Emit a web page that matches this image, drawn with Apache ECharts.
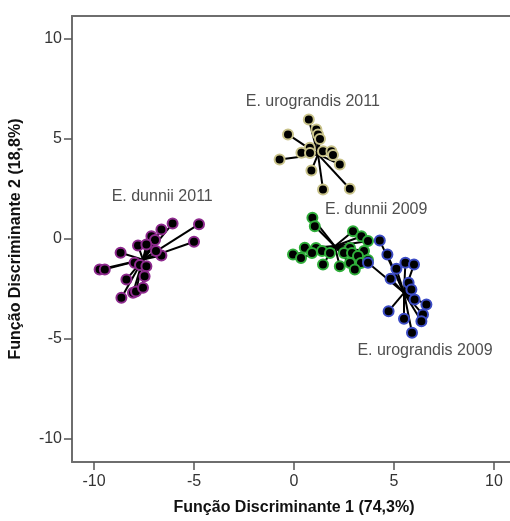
<!DOCTYPE html>
<html>
<head>
<meta charset="utf-8">
<script src="https://cdn.jsdelivr.net/npm/echarts@6/dist/echarts.min.js"></script>
<style>html,body{margin:0;padding:0;background:#fff}#c{width:510px;height:521px}</style>
</head>
<body>
<div id="c"></div>
<script>
const groupNames = ['E. dunnii 2011', 'E. urograndis 2011', 'E. dunnii 2009', 'E. urograndis 2009'];
const groupColors = ['#8e2a8e', '#c9c38a', '#2fae3a', '#3b4bc4'];

const centroids = [[-7.55, -1.03], [1.2, 4.23], [2.04, -0.36], [5.5, -2.69]];

const dunnii2011 = [
  [-4.75, 0.74], [-6.07, 0.78], [-5.0, -0.14], [-6.63, 0.47], [-7.13, 0.14],
  [-6.95, -0.05], [-7.8, -0.33], [-7.38, -0.28], [-8.67, -0.69], [-6.63, -0.83],
  [-6.9, -0.6], [-9.72, -1.52], [-9.46, -1.52], [-7.97, -1.19], [-7.7, -1.3],
  [-7.38, -1.36], [-8.38, -2.03], [-7.47, -1.86], [-8.05, -2.69], [-7.9, -2.62],
  [-7.55, -2.44], [-8.63, -2.94]
];
const urograndis2011 = [
  [0.74, 5.98], [1.12, 5.48], [1.2, 5.23], [1.3, 5.0], [-0.3, 5.23],
  [0.79, 4.56], [0.37, 4.31], [0.8, 4.3], [1.45, 4.39], [1.87, 4.39],
  [1.95, 4.2], [-0.72, 3.98], [2.29, 3.73], [0.87, 3.43], [1.45, 2.48],
  [2.79, 2.51]
];
const dunnii2009 = [
  [0.92, 1.06], [1.04, 0.64], [2.95, 0.39], [3.37, 0.14], [3.7, -0.1],
  [2.8, -0.45], [3.5, -0.6], [0.54, -0.44], [1.1, -0.45], [-0.05, -0.78],
  [0.35, -0.95], [0.9, -0.7], [1.4, -0.6], [1.8, -0.7], [2.5, -0.7],
  [2.9, -0.7], [3.2, -0.85], [3.35, -1.2], [3.7, -1.05], [1.45, -1.28],
  [2.29, -1.36], [2.8, -1.2], [3.04, -1.53]
];
const urograndis2009 = [
  [4.29, -0.08], [4.67, -0.78], [3.7, -1.19], [5.12, -1.49], [5.57, -1.19],
  [6.0, -1.28], [4.83, -1.99], [5.73, -2.19], [5.87, -2.53], [6.03, -3.03],
  [6.62, -3.28], [6.45, -3.78], [6.37, -4.11], [4.73, -3.61], [5.5, -3.99],
  [5.9, -4.69]
];
const groups = [dunnii2011, urograndis2011, dunnii2009, urograndis2009];

const labelPositions = [[-6.59, 2.14], [0.94, 6.88], [4.11, 1.48], [6.55, -5.56]];
const tickValues = [-10, -5, 0, 5, 10];

const FONT = 'Liberation Sans, Arial, sans-serif';
const series = [];
groups.forEach((pts, i) => {
  series.push({
    type: 'lines', coordinateSystem: 'cartesian2d', z: 2, silent: true,
    lineStyle: { color: '#000', width: 2, opacity: 1 },
    data: pts.map(p => ({ coords: [centroids[i], p] }))
  });
});
groups.forEach((pts, i) => {
  series.push({
    type: 'scatter', z: 3, symbolSize: 10,
    itemStyle: { color: '#000', borderColor: groupColors[i], borderWidth: 2, opacity: 1 },
    data: pts
  });
});
series.push({
  type: 'scatter', z: 4, symbolSize: 0,
  label: { show: true, position: 'inside', formatter: p => groupNames[p.dataIndex],
    fontFamily: FONT, fontSize: 16, color: '#222' },
  data: labelPositions
});

const chart = echarts.init(document.getElementById('c'), null, { renderer: 'canvas' });
const axisFont = { fontFamily: FONT, fontSize: 16, color: '#333' };
chart.setOption({
  animation: false,
  grid: { left: 72, top: 16, width: 444, height: 446, containLabel: false, outerBoundsMode: 'none' },
  xAxis: [{
    type: 'value', min: -11.1, max: 11.1,
    splitLine: { show: false },
    axisLine: { show: true, onZero: false, lineStyle: { color: '#6e6e6e', width: 2 } },
    axisTick: { show: true, length: 8, customValues: tickValues, lineStyle: { color: '#555', width: 1.5 } },
    axisLabel: { customValues: tickValues, margin: 12, ...axisFont },
    name: 'Função Discriminante 1 (74,3%)', nameLocation: 'middle', nameGap: 38,
    nameTextStyle: { fontFamily: FONT, fontSize: 16, fontWeight: 'bold', color: '#111' }
  }, {
    type: 'value', position: 'top', min: -11.1, max: 11.1,
    splitLine: { show: false }, axisTick: { show: false }, axisLabel: { show: false },
    axisLine: { show: true, onZero: false, lineStyle: { color: '#6e6e6e', width: 2 } }
  }],
  yAxis: {
    type: 'value', min: -11.15, max: 11.15,
    splitLine: { show: false },
    axisLine: { show: true, onZero: false, lineStyle: { color: '#6e6e6e', width: 2 } },
    axisTick: { show: true, length: 8, customValues: tickValues, lineStyle: { color: '#555', width: 1.5 } },
    axisLabel: { customValues: tickValues, margin: 10, ...axisFont },
    name: 'Função Discriminante 2 (18,8%)', nameLocation: 'middle', nameGap: 48,
    nameTextStyle: { fontFamily: FONT, fontSize: 16, fontWeight: 'bold', color: '#111' }
  },
  series: series
});
</script>
</body>
</html>
